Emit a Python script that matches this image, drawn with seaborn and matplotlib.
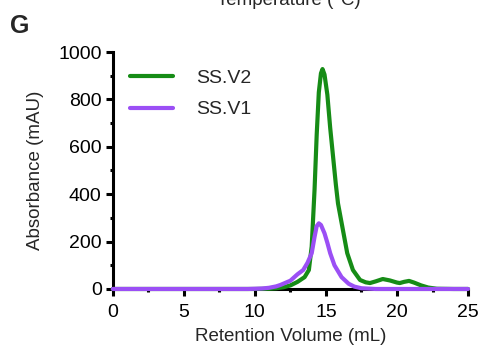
import pandas as pd
import matplotlib.pyplot as plt
import seaborn as sns

# Retention volume (mL) and absorbance (mAU)
v2_volume = [0, 5, 10, 11, 11.5, 12, 12.5, 13, 13.5, 13.8, 14.0, 14.2, 14.35, 14.5, 14.65, 14.76,
             14.9, 15.1, 15.3, 15.5, 15.7, 15.85, 16.1, 16.5, 16.9, 17.4, 17.8, 18.1, 18.5, 19.0,
             19.5, 20.0, 20.2, 20.5, 20.85, 21.2, 21.7, 22.2, 22.8, 24, 25]
v2_abs = [0, 0, 0, 1, 3, 7, 15, 30, 50, 80, 180, 420, 650, 830, 910, 928,
          905, 820, 680, 560, 440, 361, 280, 151, 80, 38, 28, 25, 32, 42,
          36, 27, 25, 30, 34, 27, 15, 6, 1, 0, 0]

v1_volume = [0, 5, 9.5, 10.5, 11, 11.5, 11.8, 12.5, 13.0, 13.4, 13.7, 14.0, 14.2, 14.35, 14.5,
             14.65, 14.9, 15.1, 15.3, 15.6, 16.1, 16.6, 17.0, 17.5, 18.5, 20, 25]
v1_abs = [0, 0, 0, 2, 5, 11, 17, 35, 62, 80, 110, 151, 220, 265, 277,
          270, 235, 195, 151, 100, 50, 22, 10, 3, 0, 0, 0]

data = pd.concat([
    pd.DataFrame({"volume": v2_volume, "absorbance": v2_abs, "sample": "SS.V2"}),
    pd.DataFrame({"volume": v1_volume, "absorbance": v1_abs, "sample": "SS.V1"}),
])

sns.set_style("ticks")
plt.rcParams["font.family"] = ["Liberation Sans", "DejaVu Sans"]

fig = plt.figure(figsize=(4.84, 3.49), dpi=100)
ax = fig.add_axes([0.233, 0.172, 0.734, 0.679])

sns.lineplot(data=data, x="volume", y="absorbance", hue="sample",
             palette={"SS.V2": "#168c16", "SS.V1": "#9b4ff5"},
             linewidth=3, sort=False, ax=ax, zorder=3, clip_on=False)

ax.set_xlim(0, 25)
ax.set_ylim(0, 1000)
ax.set_xticks([0, 5, 10, 15, 20, 25])
ax.set_xticks([2.5, 7.5, 12.5, 17.5, 22.5], minor=True)
ax.set_yticks([0, 200, 400, 600, 800, 1000])
ax.set_yticks([100, 300, 500, 700, 900], minor=True)
ax.tick_params(which="major", length=5, width=2.2, labelsize=14, color="black", labelcolor="black", pad=3)
ax.tick_params(axis="x", which="major", pad=6)
ax.tick_params(which="minor", length=2.5, width=2.2, color="black")
for side in ["left", "bottom"]:
    ax.spines[side].set_linewidth(2.2)
    ax.spines[side].set_color("black")
sns.despine(ax=ax)

ax.set_xlabel("Retention Volume (mL)", fontsize=13.5, labelpad=5)
ax.set_ylabel("Absorbance (mAU)", fontsize=13.5, labelpad=10)

ax.legend(loc="upper left", bbox_to_anchor=(0.0, 1.0), frameon=False, fontsize=14,
          handlelength=2.2, handletextpad=1.2, labelspacing=0.7, title=None)
for line in ax.get_legend().get_lines():
    line.set_linewidth(3)

fig.text(0.021, 1 - 33 / 349, "G", fontsize=18, fontweight="bold", va="baseline")
fig.text(0.597, 1 - 5 / 349, "Temperature (°C)", fontsize=13.5, ha="center", va="baseline")

plt.savefig("out.png", dpi=100)
